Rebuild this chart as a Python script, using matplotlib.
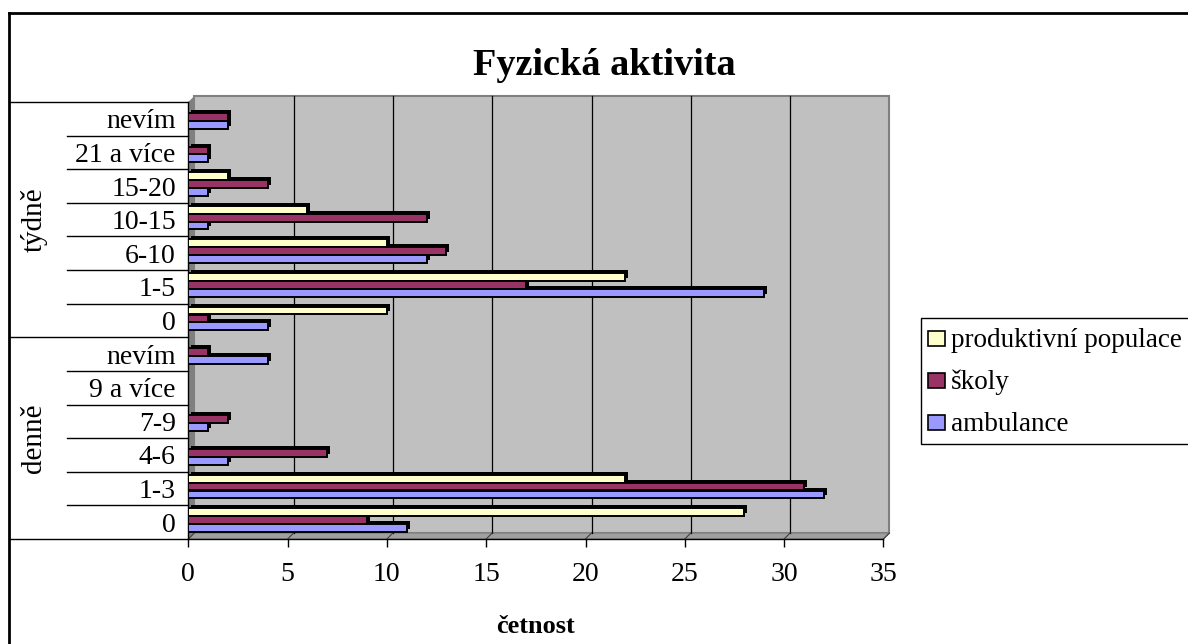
import matplotlib
matplotlib.use("Agg")
import matplotlib.pyplot as plt
import numpy as np
from matplotlib.patches import Rectangle, Polygon
from matplotlib.lines import Line2D
from matplotlib.transforms import blended_transform_factory

plt.rcParams['font.family'] = ['Liberation Serif', 'DejaVu Serif']

# categories listed bottom to top
categories = ['0', '1-3', '4-6', '7-9', '9 a více', 'nevím',
              '0', '1-5', '6-10', '10-15', '15-20', '21 a více', 'nevím']
groups = ['denně', 'týdně']
group_sizes = [6, 7]

ambulance = [11, 32, 2, 1, 0, 4, 4, 29, 12, 1, 1, 1, 2]
skoly = [9, 31, 7, 2, 0, 1, 1, 17, 13, 12, 4, 1, 2]
produktivni = [28, 22, 0, 0, 0, 0, 10, 22, 10, 6, 2, 0, 0]

series = [('produktivní populace', produktivni, '#FFFFCC'),
          ('školy', skoly, '#993366'),
          ('ambulance', ambulance, '#9999FF')]

W, H = 1188, 644


def fx(px):
    return px / W


def fy(py):
    return 1 - py / H


fig = plt.figure(figsize=(W / 100, H / 100), dpi=100)
fig.patch.set_facecolor('white')

x0_px, x1_px, ytop_px, ybot_px = 188.3, 883.4, 102, 539
ax = fig.add_axes([fx(x0_px), fy(ybot_px), (x1_px - x0_px) / W, (ybot_px - ytop_px) / H])
ax.patch.set_visible(False)

xmax = 35
n = len(categories)
ax.set_xlim(0, xmax)
ax.set_ylim(-0.5, n - 0.5)

# data units per pixel, used for the fake 3d depth
ux = xmax / (x1_px - x0_px)
uy = n / (ybot_px - ytop_px)
ddx, ddy = 6 * ux, 6 * uy

# back wall, side wall and floor
ax.add_patch(Rectangle((ddx, -0.5 + ddy), xmax, n, facecolor='#C0C0C0',
                       edgecolor='#808080', lw=1.5, zorder=0, clip_on=False))
ax.add_patch(Polygon([(0, -0.5), (ddx, -0.5 + ddy), (ddx, n - 0.5 + ddy), (0, n - 0.5)],
                     closed=True, facecolor='#808080', edgecolor='none', zorder=0.5, clip_on=False))
ax.add_patch(Polygon([(0, -0.5), (xmax, -0.5), (xmax + ddx, -0.5 + ddy), (ddx, -0.5 + ddy)],
                     closed=True, facecolor='#A0A0A0', edgecolor='#808080', lw=1, zorder=0.5,
                     clip_on=False))

for v in range(5, xmax, 5):
    ax.plot([v + ddx, v + ddx], [-0.5 + ddy, n - 0.5 + ddy], color='black', lw=0.9,
            zorder=1, clip_on=False)
for v in range(0, xmax + 1, 5):
    ax.plot([v, v + ddx], [-0.5, -0.5 + ddy], color='#404040', lw=0.8, zorder=1, clip_on=False)

# bars: three per category, with a black offset block for depth
y = np.arange(n)
bh = 0.232
offsets = [0.235, 0.0, -0.235]
sdx, sdy = 3 * ux, 3 * uy
for (name, vals, col), off in zip(series, offsets):
    pos = y + 0.06 + off
    ax.barh(pos + sdy, vals, left=sdx, height=bh, color='black', zorder=2)
    ax.barh(pos, vals, height=bh, color=col, edgecolor='black', lw=1.4, zorder=3)

for side in ['top', 'right']:
    ax.spines[side].set_visible(False)
ax.spines['left'].set_color('black')
ax.spines['left'].set_linewidth(1)
ax.spines['bottom'].set_linewidth(1)

ax.set_xticks(range(0, xmax + 1, 5))
ax.tick_params(axis='x', length=5.8, width=1, direction='out', pad=11, labelsize=20)
ax.set_yticks(y)
ax.set_yticklabels(categories)
ax.tick_params(axis='y', length=0, pad=9, labelsize=20)

# category table lines and group labels on the left
trans = blended_transform_factory(ax.transAxes, ax.transData)
x_sub = (67 - x0_px) / (x1_px - x0_px)
x_grp = (9 - x0_px) / (x1_px - x0_px)
bounds = [-0.5]
for s in group_sizes:
    bounds.append(bounds[-1] + s)
for b in np.arange(-0.5, n, 1.0):
    xs = x_grp if any(abs(b - g) < 1e-6 for g in bounds) else x_sub
    ax.plot([xs, 0], [b, b], color='black', lw=1, transform=trans, clip_on=False)

x_lab = (34 - x0_px) / (x1_px - x0_px)
for g, lo, hi in zip(groups, bounds[:-1], bounds[1:]):
    ax.text(x_lab, (lo + hi) / 2, g, rotation=90, ha='center', va='center',
            fontsize=21, transform=trans)

# outer chart border (left and top edges)
fig.add_artist(Line2D([fx(9), fx(9)], [fy(13), fy(660)], color='black', lw=2))
fig.add_artist(Line2D([fx(9), fx(1200)], [fy(13), fy(13)], color='black', lw=2))

fig.text(fx(604), fy(75), 'Fyzická aktivita', ha='center', va='baseline',
         fontsize=27.5, fontweight='bold')
fig.text(fx((x0_px + x1_px) / 2), fy(633), 'četnost', ha='center', va='baseline',
         fontsize=19, fontweight='bold')

# legend box
fig.add_artist(Rectangle((fx(921), fy(444)), fx(1200) - fx(921), fy(318) - fy(444),
                         transform=fig.transFigure, facecolor='white', edgecolor='black', lw=1))
for i, (name, vals, col) in enumerate(series):
    base = 347 + 42 * i
    fig.add_artist(Rectangle((fx(928), fy(base - 1)), fx(945) - fx(928), fy(base - 16) - fy(base - 1),
                             transform=fig.transFigure, facecolor=col, edgecolor='black', lw=1.2))
    fig.text(fx(951), fy(base), name, ha='left', va='baseline', fontsize=19.5)

fig.savefig('out.png', dpi=100)
